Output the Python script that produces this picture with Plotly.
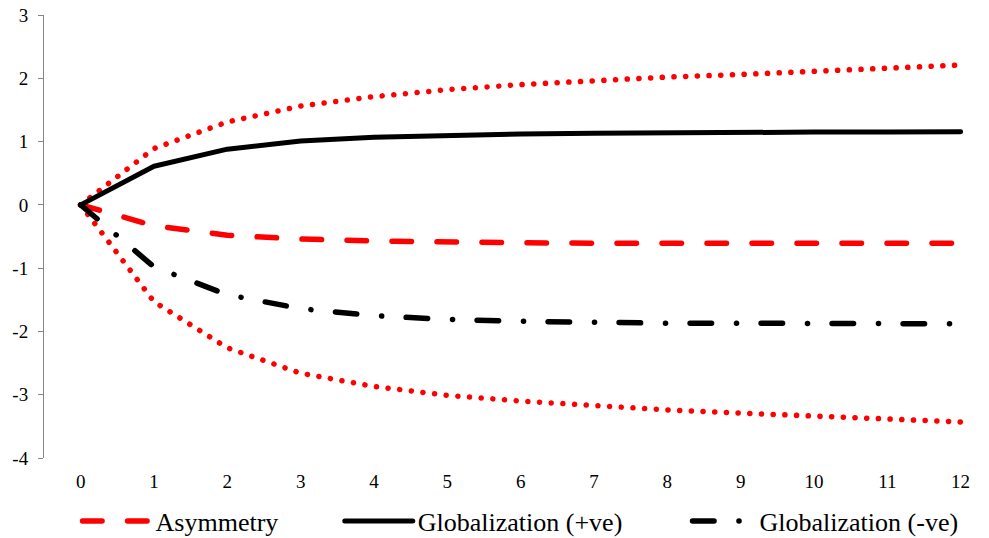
import plotly.graph_objects as go

# Horizon (periods after the shock)
periods = list(range(13))
period_labels = [str(p) for p in periods]

# Impulse responses
asymmetry = [0, -0.33, -0.48, -0.54, -0.57, -0.595, -0.60, -0.605, -0.605, -0.605, -0.605, -0.605, -0.606]
asym_upper = [0, 0.89, 1.31, 1.56, 1.71, 1.82, 1.90, 1.97, 2.02, 2.06, 2.11, 2.16, 2.21]
asym_lower = [0, -1.53, -2.26, -2.66, -2.87, -3.01, -3.10, -3.18, -3.24, -3.29, -3.33, -3.38, -3.43]
glob_pos = [0, 0.61, 0.88, 1.01, 1.07, 1.10, 1.12, 1.13, 1.14, 1.145, 1.15, 1.15, 1.155]
glob_neg = [0, -0.98, -1.42, -1.64, -1.75, -1.81, -1.84, -1.86, -1.87, -1.87, -1.875, -1.875, -1.88]

y_ticks = [-4, -3, -2, -1, 0, 1, 2, 3]
y_tick_labels = ["-4", "-3", "-2", "-1", "0", "1", "2", "3"]

SERIF = "Liberation Serif, Times New Roman, Times, DejaVu Serif, serif"
AXIS_GREY = "#868686"
RED = "#ff0000"

fig = go.Figure()

fig.add_trace(go.Scatter(
    x=periods, y=asym_upper, mode="lines", name="Upper band", showlegend=False,
    line=dict(color=RED, width=5.5, dash="0.1px,11.6px"),
))
fig.add_trace(go.Scatter(
    x=periods, y=asym_lower, mode="lines", name="Lower band", showlegend=False,
    line=dict(color=RED, width=5.5, dash="0.1px,11.6px"),
))
fig.add_trace(go.Scatter(
    x=periods, y=asymmetry, mode="lines", name="Asymmetry", legend="legend",
    line=dict(color=RED, width=5.5, dash="19.5px,25.5px"),
))
fig.add_trace(go.Scatter(
    x=periods, y=glob_pos, mode="lines", name="Globalization (+ve)", legend="legend2",
    line=dict(color="#000000", width=5),
))
fig.add_trace(go.Scatter(
    x=periods, y=glob_neg, mode="lines", name="Globalization (-ve)", legend="legend3",
    line=dict(color="#000000", width=5.5, dash="21.5px,24.9px,0.1px,24.5px"),
))

legend_common = dict(
    orientation="h", xanchor="left", yanchor="middle",
    yref="container", y=1 - 521 / 538,
    bgcolor="rgba(0,0,0,0)", font=dict(family=SERIF, size=26, color="#000000"),
    itemclick=False, itemdoubleclick=False,
)

fig.update_layout(
    width=989, height=538,
    margin=dict(l=44, r=0, t=15, b=80),
    paper_bgcolor="white", plot_bgcolor="white",
    font=dict(family=SERIF, size=19, color="#000000"),
    xaxis=dict(
        range=[-0.5, 12.387], tickvals=periods, ticktext=period_labels,
        showline=False, showgrid=False, zeroline=False, ticks="",
        ticklabelstandoff=10, tickfont=dict(family=SERIF, size=19, color="#000000"),
    ),
    xaxis2=dict(
        overlaying="x", matches="x", anchor="free", position=4 / 7,
        showline=True, linecolor=AXIS_GREY, linewidth=1,
        showgrid=False, zeroline=False, showticklabels=False,
        tickvals=[p + 0.5 for p in periods], ticks="outside", ticklen=5,
        tickcolor=AXIS_GREY, tickwidth=1,
    ),
    yaxis=dict(
        range=[-4, 3], tickvals=y_ticks, ticktext=y_tick_labels,
        showline=True, linecolor=AXIS_GREY, linewidth=1,
        showgrid=False, zeroline=False, ticks="outside", ticklen=5,
        tickcolor=AXIS_GREY, tickwidth=1, ticklabelstandoff=6,
        tickfont=dict(family=SERIF, size=19, color="#000000"),
    ),
    legend=dict(x=0.0355, itemwidth=68, **legend_common),
    legend2=dict(x=0.313, itemwidth=68, **legend_common),
    legend3=dict(x=0.681, itemwidth=62, **legend_common),
    showlegend=True,
)

# round line caps so dotted/dashed strokes render as rounded marks
round_caps = """
document.querySelectorAll('path.js-line').forEach(function(p){
  p.style.strokeLinecap = 'round';
  p.style.strokeLinejoin = 'round';
});
"""

fig.write_html("out.html", post_script=round_caps)
